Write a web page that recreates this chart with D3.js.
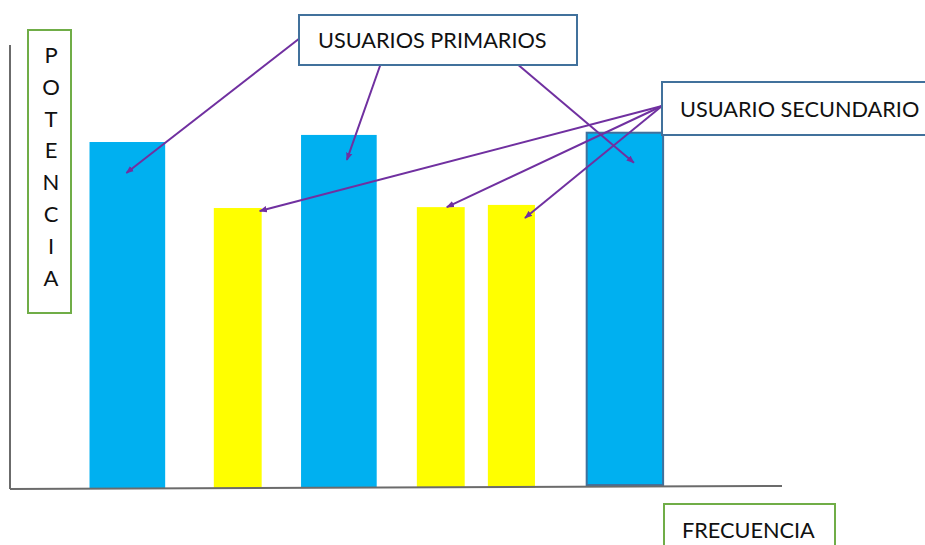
<!DOCTYPE html>
<html><head><meta charset="utf-8">
<script src="https://cdn.jsdelivr.net/npm/d3@7"></script>
<style>body{margin:0;background:#fff}svg{display:block}text{font-family:Lato,"Open Sans",sans-serif;fill:#111}</style>
</head><body><svg id="c" width="925" height="545"></svg>
<script>
// Data
const categories = ["Primario 1","Secundario 1","Primario 2","Secundario 2","Secundario 3","Primario 3"];
const userType   = ["primario","secundario","primario","secundario","secundario","primario"];
const freqStart  = [10.3, 26.4, 37.7, 52.7, 61.9, 74.7];
const freqEnd    = [20.1, 32.6, 47.5, 58.9, 68.0, 84.6];
const potencia   = [78.1, 63.2, 79.7, 63.4, 63.9, 80.2];
const labelPrimario = "USUARIOS PRIMARIOS";
const labelSecundario = "USUARIO SECUNDARIO";
const labelY = "POTENCIA";
const labelX = "FRECUENCIA";

const svg = d3.select("#c");
const x = d3.scaleLinear().domain([0,100]).range([10,782]);
const y = d3.scaleLinear().domain([0,100]).range([488,45]);
const color = {primario:"#00B0F0", secundario:"#FFFF00"};
const data = categories.map((c,i)=>({c, t:userType[i], f0:freqStart[i], f1:freqEnd[i], v:potencia[i]}));

// bars
svg.selectAll("rect.bar").data(data).enter().append("rect")
  .attr("class","bar")
  .attr("x",d=>x(d.f0)).attr("width",d=>x(d.f1)-x(d.f0))
  .attr("y",d=>y(d.v)).attr("height",(d,i)=>y(0)-y(d.v)-(i===5?3:0))
  .attr("fill",d=>color[d.t])
  .attr("stroke",(d,i)=>i===5?"#41719C":"none")
  .attr("stroke-width",2);

// axes
svg.append("line").attr("x1",x(0)).attr("x2",x(0)).attr("y1",y(100)).attr("y2",y(0)+1)
  .attr("stroke","#6b6b6b").attr("stroke-width",2);
svg.append("line").attr("x1",x(0)).attr("x2",x(100)).attr("y1",y(0)+1).attr("y2",y(0)-2)
  .attr("stroke","#6b6b6b").attr("stroke-width",2);

// Y label box
svg.append("rect").attr("x",28).attr("y",30).attr("width",43).attr("height",283)
  .attr("fill","#fff").attr("stroke","#70AD47").attr("stroke-width",2);
labelY.split("").forEach((ch,i)=>{
  svg.append("text").attr("x",51).attr("y",63+i*31.8).attr("text-anchor","middle")
    .attr("font-size",22).text(ch);
});

// X label box
svg.append("rect").attr("x",664).attr("y",504).attr("width",171).attr("height",50)
  .attr("fill","#fff").attr("stroke","#70AD47").attr("stroke-width",2);
svg.append("text").attr("x",682).attr("y",538).attr("font-size",21.7).text(labelX);

// arrows
const defs = svg.append("defs");
defs.append("marker").attr("id","ah").attr("viewBox","0 0 10 10").attr("refX",9).attr("refY",5)
  .attr("markerWidth",4).attr("markerHeight",4).attr("orient","auto")
  .append("path").attr("d","M0,1 L10,5 L0,9 Z").attr("fill","#7030A0");
const prim = data.filter(d=>d.t==="primario");
const sec = data.filter(d=>d.t==="secundario");
const primStarts = [[300,38],[381,63],[516,63]];
const primOff = [31,25,30];
prim.forEach((d,i)=>{
  svg.append("line").attr("x1",primStarts[i][0]).attr("y1",primStarts[i][1])
    .attr("x2",(x(d.f0)+x(d.f1))/2 + [ -1, 8, 9][i]).attr("y2",y(d.v)+primOff[i])
    .attr("stroke","#7030A0").attr("stroke-width",2).attr("marker-end","url(#ah)");
});
const secEnd = [[ -2, 3],[6,0],[-10,13]];
sec.forEach((d,i)=>{
  const ex = i===1 ? (x(d.f0)+x(d.f1))/2 + secEnd[i][0] : x(d.f1)+secEnd[i][0];
  svg.append("line").attr("x1",662).attr("y1",106)
    .attr("x2",ex).attr("y2",y(d.v)+secEnd[i][1])
    .attr("stroke","#7030A0").attr("stroke-width",2).attr("marker-end","url(#ah)");
});

// label boxes
svg.append("rect").attr("x",299).attr("y",15).attr("width",278).attr("height",50)
  .attr("fill","#fff").attr("stroke","#41719C").attr("stroke-width",2);
svg.append("text").attr("x",318).attr("y",48).attr("font-size",21.7).text(labelPrimario);
svg.append("rect").attr("x",662).attr("y",82).attr("width",275).attr("height",53)
  .attr("fill","#fff").attr("stroke","#41719C").attr("stroke-width",2);
svg.append("text").attr("x",680).attr("y",117).attr("font-size",21.7).text(labelSecundario);
</script></body></html>
